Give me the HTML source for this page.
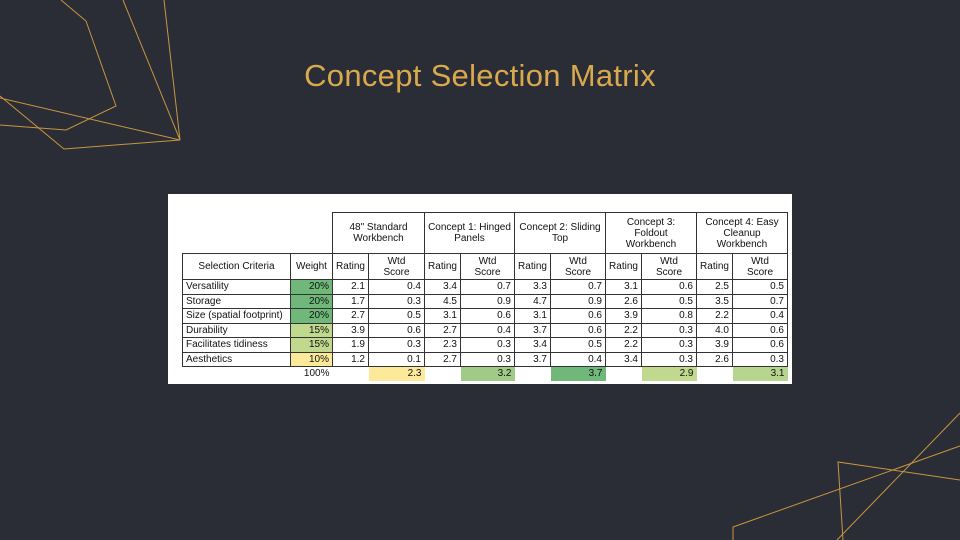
<!DOCTYPE html>
<html><head><meta charset="utf-8"><style>
body{margin:0;width:960px;height:540px;background:#2a2d36;position:relative;overflow:hidden;font-family:"Liberation Sans",sans-serif}
#title{position:absolute;left:0;top:58px;width:960px;text-align:center;color:#d9a94e;font-size:31px;letter-spacing:0.3px}
#panel{position:absolute;left:168px;top:194px;width:624px;height:190px;background:#fff}
table{position:absolute;left:14px;top:18px;border-collapse:collapse;font-size:10px;color:#111;table-layout:fixed}
td{padding:0 3px;height:13.5px;line-height:11px;border:1px solid #333;text-align:right;white-space:nowrap;overflow:hidden}
td.l{text-align:left}
td.c{text-align:center}
td.n{border:none}
.h1 td{height:40px}
.h2 td{height:25px}
.g1{background:#6fb87a}.g2{background:#c0d98e}.y{background:#fde99a}.g3{background:#9fcb86}.g4{background:#b6d58e}
</style></head><body>
<svg width="960" height="540" style="position:absolute;left:0;top:0">
<g fill="none" stroke="#c8963e" stroke-width="1">
<polyline points="61,0 86,21 116,106 66,130 0,125"/>
<polyline points="123,0 180,140 164,0"/>
<polyline points="0,98 180,140 64,149 0,96"/>
<polyline points="733,540 733,527 960,446"/>
<polyline points="843,540 838,462 960,480"/>
<line x1="960" y1="413" x2="837" y2="540"/>
</g></svg>
<div id="title">Concept Selection Matrix</div>
<div id="panel">
<table>
<colgroup><col style="width:108px"><col style="width:42px"><col style="width:36px"><col style="width:56px"><col style="width:36px"><col style="width:54px"><col style="width:36px"><col style="width:55px"><col style="width:36px"><col style="width:55px"><col style="width:36px"><col style="width:55px"></colgroup>
<tr class="h1"><td class="n"></td><td class="n"></td><td colspan="2" class="c">48" Standard<br>Workbench</td><td colspan="2" class="c">Concept 1: Hinged<br>Panels</td><td colspan="2" class="c">Concept 2: Sliding<br>Top</td><td colspan="2" class="c">Concept 3:<br>Foldout<br>Workbench</td><td colspan="2" class="c">Concept 4: Easy<br>Cleanup<br>Workbench</td></tr>
<tr class="h2"><td class="c">Selection Criteria</td><td class="c">Weight</td><td class="c">Rating</td><td class="c">Wtd<br>Score</td><td class="c">Rating</td><td class="c">Wtd<br>Score</td><td class="c">Rating</td><td class="c">Wtd<br>Score</td><td class="c">Rating</td><td class="c">Wtd<br>Score</td><td class="c">Rating</td><td class="c">Wtd<br>Score</td></tr>
<tr><td class="l">Versatility</td><td class="g1">20%</td><td>2.1</td><td>0.4</td><td>3.4</td><td>0.7</td><td>3.3</td><td>0.7</td><td>3.1</td><td>0.6</td><td>2.5</td><td>0.5</td></tr>
<tr><td class="l">Storage</td><td class="g1">20%</td><td>1.7</td><td>0.3</td><td>4.5</td><td>0.9</td><td>4.7</td><td>0.9</td><td>2.6</td><td>0.5</td><td>3.5</td><td>0.7</td></tr>
<tr><td class="l">Size (spatial footprint)</td><td class="g1">20%</td><td>2.7</td><td>0.5</td><td>3.1</td><td>0.6</td><td>3.1</td><td>0.6</td><td>3.9</td><td>0.8</td><td>2.2</td><td>0.4</td></tr>
<tr><td class="l">Durability</td><td class="g2">15%</td><td>3.9</td><td>0.6</td><td>2.7</td><td>0.4</td><td>3.7</td><td>0.6</td><td>2.2</td><td>0.3</td><td>4.0</td><td>0.6</td></tr>
<tr><td class="l">Facilitates tidiness</td><td class="g2">15%</td><td>1.9</td><td>0.3</td><td>2.3</td><td>0.3</td><td>3.4</td><td>0.5</td><td>2.2</td><td>0.3</td><td>3.9</td><td>0.6</td></tr>
<tr><td class="l">Aesthetics</td><td class="y">10%</td><td>1.2</td><td>0.1</td><td>2.7</td><td>0.3</td><td>3.7</td><td>0.4</td><td>3.4</td><td>0.3</td><td>2.6</td><td>0.3</td></tr>
<tr><td class="n"></td><td class="n">100%</td><td class="n"></td><td class="n y">2.3</td><td class="n"></td><td class="n g3">3.2</td><td class="n"></td><td class="n g1">3.7</td><td class="n"></td><td class="n g2">2.9</td><td class="n"></td><td class="n g4">3.1</td></tr>
</table></div>
</body></html>
